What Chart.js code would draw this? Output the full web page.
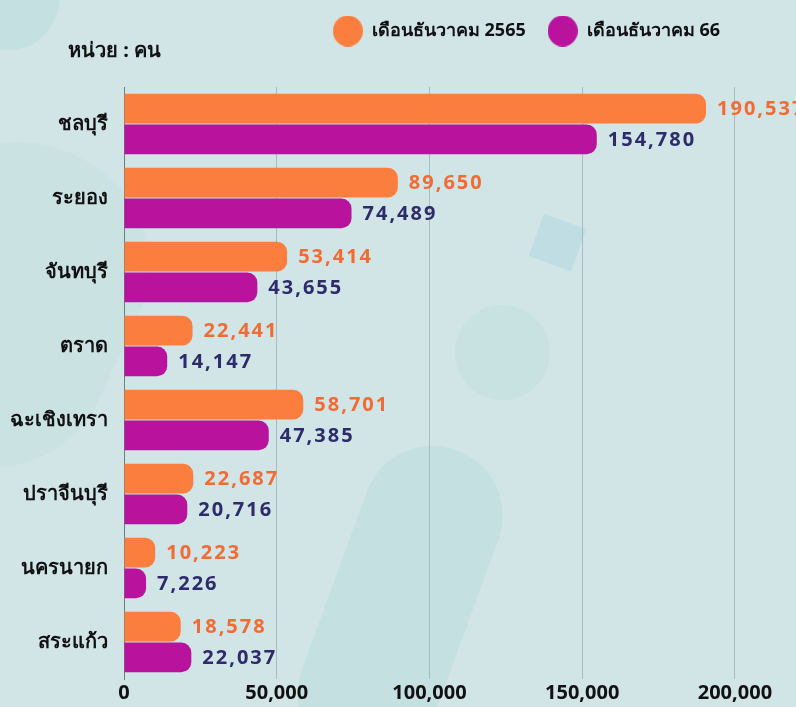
<!DOCTYPE html>
<html>
<head>
<meta charset="utf-8">
<script src="https://cdn.jsdelivr.net/npm/chart.js@4"></script>
<style>
  html, body { margin: 0; padding: 0; }
  body { width: 796px; height: 707px; background: #d1e5e7; position: relative; overflow: hidden; }
  .deco { position: absolute; background: #c5e0e0; }
  #wrap { position: absolute; left: 0; top: 0; width: 796px; height: 707px; }
</style>
</head>
<body>
<div class="deco" style="left:-40px;top:-60px;width:100px;height:110px;border-radius:50%;"></div>
<div class="deco" style="left:-120px;top:140px;width:250px;height:330px;border-radius:120px;transform:rotate(25deg);opacity:.6"></div>
<div class="deco" style="left:330px;top:440px;width:140px;height:330px;border-radius:70px;transform:rotate(20deg);"></div>
<div class="deco" style="left:455px;top:305px;width:95px;height:95px;border-radius:50%;opacity:.8"></div>
<div class="deco" style="left:535px;top:220px;width:45px;height:45px;transform:rotate(20deg);background:#c0dde3"></div>
<div id="wrap"><canvas id="chart" width="796" height="707"></canvas></div>
<script>
const provinces = ['ชลบุรี', 'ระยอง', 'จันทบุรี', 'ตราด', 'ฉะเชิงเทรา', 'ปราจีนบุรี', 'นครนายก', 'สระแก้ว'];
const dec2565 = [190537, 89650, 53414, 22441, 58701, 22687, 10223, 18578];
const dec66 = [154780, 74489, 43655, 14147, 47385, 20716, 7226, 22037];
const seriesNames = ['เดือนธันวาคม 2565', 'เดือนธันวาคม 66'];
const xTicks = [0, 50000, 100000, 150000, 200000];
const unitText = 'หน่วย : คน';

const FONT = '"Noto Sans", "DejaVu Sans", sans-serif';
const barColors = ['#fc7e3e', '#b9129c'];

// round legend markers, a bit bigger than the library's default
function dot(color) {
  const c = document.createElement('canvas');
  c.width = 30; c.height = 31;
  const g = c.getContext('2d');
  g.fillStyle = color;
  g.beginPath();
  g.ellipse(15, 15.5, 15, 15.5, 0, 0, Math.PI * 2);
  g.fill();
  return c;
}
const dots = barColors.map(dot);

// numbers at the end of every bar
const barLabels = {
  id: 'barLabels',
  afterDatasetsDraw(chart) {
    const ctx = chart.ctx;
    ctx.save();
    ctx.font = 'bold 20px ' + FONT;
    ctx.letterSpacing = '2px';
    ctx.textBaseline = 'middle';
    chart.data.datasets.forEach((ds, i) => {
      chart.getDatasetMeta(i).data.forEach((bar, j) => {
        ctx.fillStyle = ds.labelColor;
        ctx.fillText(ds.data[j].toLocaleString('en-US'), bar.x + 11, bar.y + 1);
      });
    });
    ctx.restore();
  }
};

// unit text + push legend to the right
const extras = {
  id: 'extras',
  beforeInit(chart) {
    const fit = chart.legend.fit;
    chart.legend.fit = function () {
      fit.call(this);
      this.height += 37;
    };
  },
  afterLayout(chart) {
    chart.legend.right = 742;
  },
  afterDraw(chart) {
    const ctx = chart.ctx;
    ctx.save();
    ctx.font = 'bold 20px ' + FONT;
    ctx.fillStyle = '#111';
    ctx.textBaseline = 'middle';
    ctx.fillText(unitText, 68, 51);
    ctx.restore();
  }
};

new Chart(document.getElementById('chart'), {
  type: 'bar',
  data: {
    labels: provinces,
    datasets: [{
      label: seriesNames[0],
      data: dec2565,
      backgroundColor: barColors[0],
      labelColor: '#f26b33',
      borderRadius: 10,
      borderSkipped: 'start',
      categoryPercentage: 0.83,
      barPercentage: 0.965
    }, {
      label: seriesNames[1],
      data: dec66,
      backgroundColor: barColors[1],
      labelColor: '#2d2b6b',
      borderRadius: 10,
      borderSkipped: 'start',
      categoryPercentage: 0.83,
      barPercentage: 0.965
    }]
  },
  options: {
    indexAxis: 'y',
    responsive: false,
    animation: false,
    layout: { padding: 0 },
    plugins: {
      legend: {
        position: 'top',
        align: 'end',
        labels: {
          usePointStyle: true,
          pointStyleWidth: 30,
          padding: 22,
          color: '#111',
          font: { family: FONT, size: 18, weight: 'bold' },
          generateLabels(chart) {
            const items = Chart.defaults.plugins.legend.labels.generateLabels(chart);
            items.forEach((it, i) => { it.pointStyle = dots[i]; });
            return items;
          }
        }
      },
      tooltip: { enabled: false }
    },
    scales: {
      x: {
        min: 0,
        max: 220000,
        afterBuildTicks(scale) {
          scale.ticks = xTicks.map(v => ({ value: v }));
        },
        ticks: {
          padding: 2,
          color: '#111',
          font: { family: FONT, size: 20, weight: 'bold' },
          callback: v => v.toLocaleString('en-US')
        },
        grid: { color: '#a7bcbe', drawTicks: false },
        border: { display: false }
      },
      y: {
        afterFit(scale) { scale.width = 124; },
        ticks: {
          padding: 16,
          color: '#111',
          font: { family: FONT, size: 20, weight: 'bold' }
        },
        grid: { display: false, drawTicks: false },
        border: { display: true, color: '#6f7d80', width: 1 }
      }
    }
  },
  plugins: [barLabels, extras]
});
</script>
</body>
</html>
